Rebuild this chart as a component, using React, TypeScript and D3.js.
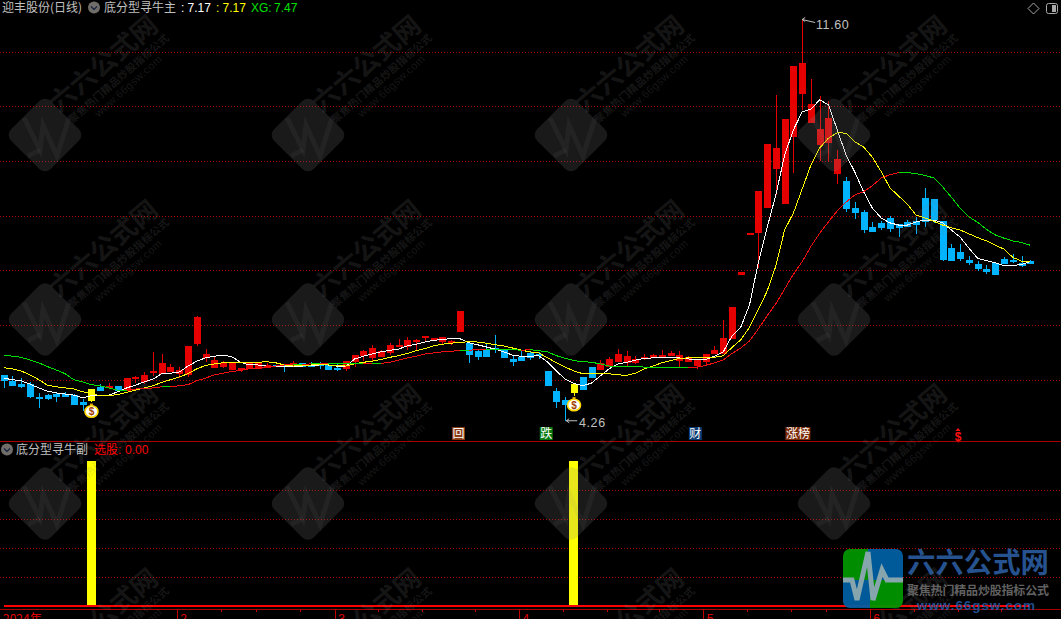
import React from "react";
import * as d3 from "d3";

const opens = [5.10,4.99,4.93,4.93,4.69,4.73,4.75,4.75,4.73,4.60,4.62,4.88,4.86,4.90,4.82,5.03,4.97,5.15,5.12,5.15,5.10,5.10,5.66,5.41,5.24,5.24,5.19,5.21,5.21,5.21,5.23,5.28,5.29,5.26,5.32,5.28,5.32,5.28,5.22,5.21,
5.33,5.44,5.41,5.43,5.50,5.61,5.61,5.71,5.77,5.74,5.70,5.68,5.88,5.68,5.54,5.57,5.59,5.57,5.39,5.43,5.50,5.48,5.17,4.80,4.64,4.77,5.06,5.24,5.19,5.24,5.33,5.32,5.32,5.39,5.41,5.43,5.44,5.35,5.33,5.26,5.33,5.48,5.48,5.76,6.94,7.67,7.69,8.15,8.87,8.22,9.45,10.24,9.71,9.30,9.34,8.77,
8.65,8.15,8.08,7.80,7.88,7.97,7.86,7.90,7.91,8.33,8.32,7.91,7.42,7.35,7.20,7.13,7.04,7.15,7.22,7.20,7.15,7.18];
const closes = [4.99,4.90,4.88,4.69,4.66,4.66,4.69,4.69,4.55,4.55,4.84,4.80,4.90,4.80,5.05,5.06,5.10,5.17,5.32,5.24,5.18,5.63,6.16,5.48,5.38,5.32,5.32,5.22,5.32,5.32,5.28,5.24,5.27,5.32,5.25,5.25,5.27,5.19,5.19,5.35,
5.46,5.54,5.59,5.54,5.65,5.65,5.74,5.74,5.81,5.77,5.79,5.72,6.27,5.46,5.43,5.43,5.55,5.41,5.33,5.35,5.41,5.44,4.90,4.60,4.55,4.93,4.82,5.04,5.32,5.39,5.48,5.44,5.39,5.43,5.46,5.46,5.50,5.46,5.43,5.39,5.48,5.55,5.77,6.34,6.99,7.69,8.46,9.32,9.25,9.78,10.75,10.80,10.05,9.60,9.80,9.05,
8.13,8.06,7.75,7.71,7.79,7.77,7.79,7.80,7.84,7.90,7.93,7.20,7.18,7.22,7.15,7.04,6.98,6.93,7.13,7.16,7.09,7.13];
const highs = [5.10,5.08,5.05,4.97,4.76,4.75,4.79,4.78,4.75,4.66,4.84,4.93,4.95,4.90,5.05,5.08,5.15,5.52,5.48,5.30,5.25,5.63,6.18,5.57,5.44,5.35,5.32,5.22,5.32,5.32,5.32,5.28,5.30,5.35,5.32,5.33,5.33,5.32,5.32,5.35,
5.46,5.55,5.65,5.55,5.68,5.76,5.79,5.76,5.81,5.77,5.79,5.74,6.27,5.68,5.55,5.68,5.83,5.57,5.44,5.54,5.54,5.52,5.17,4.86,4.69,4.93,5.06,5.24,5.37,5.43,5.57,5.54,5.44,5.48,5.48,5.55,5.54,5.54,5.44,5.39,5.48,5.63,6.10,6.34,6.99,7.69,8.46,9.32,10.22,9.78,10.75,11.60,10.51,10.20,10.11,9.21,
8.72,8.26,8.11,7.90,7.91,8.01,7.86,7.93,7.99,8.52,8.32,7.91,7.49,7.49,7.27,7.18,7.11,7.15,7.26,7.31,7.27,7.20];
const lows = [4.86,4.90,4.86,4.67,4.50,4.64,4.61,4.69,4.55,4.44,4.60,4.80,4.84,4.80,4.82,4.95,4.93,5.08,5.12,5.15,5.05,5.06,5.63,5.33,5.24,5.22,5.19,5.15,5.21,5.21,5.23,5.24,5.15,5.26,5.25,5.25,5.21,5.19,5.17,5.17,
5.24,5.35,5.35,5.43,5.46,5.61,5.55,5.55,5.70,5.74,5.66,5.65,5.88,5.32,5.37,5.43,5.50,5.41,5.26,5.35,5.37,5.39,4.90,4.49,4.26,4.71,4.82,5.04,5.19,5.24,5.33,5.26,5.30,5.37,5.41,5.43,5.44,5.24,5.33,5.21,5.26,5.48,5.48,5.76,6.94,7.67,7.05,8.15,8.39,8.22,8.79,9.94,9.71,9.01,8.99,8.59,
8.08,7.95,7.69,7.71,7.75,7.71,7.62,7.80,7.68,7.80,7.88,7.18,7.18,7.18,7.11,7.00,6.94,6.93,7.13,7.15,7.07,7.13];
const fastLine = [5.04,5.01,4.99,4.93,4.86,4.80,4.77,4.75,4.73,4.68,4.72,4.73,4.73,4.79,4.86,4.91,4.97,5.02,5.12,5.13,5.15,5.26,5.35,5.41,5.44,5.46,5.43,5.33,5.28,5.28,5.26,5.26,5.26,5.26,5.26,5.27,5.28,5.28,5.26,5.26,
5.39,5.44,5.48,5.52,5.55,5.57,5.63,5.66,5.70,5.73,5.75,5.76,5.76,5.69,5.65,5.61,5.57,5.52,5.46,5.44,5.44,5.45,5.33,5.17,5.02,4.94,4.90,4.95,5.08,5.21,5.30,5.33,5.37,5.40,5.41,5.42,5.42,5.41,5.39,5.38,5.38,5.44,5.52,5.81,5.97,6.38,7.15,7.79,8.39,9.12,9.58,9.91,9.96,10.13,10.04,9.58,
9.12,8.81,8.45,8.15,7.97,7.88,7.84,7.84,7.90,7.93,7.93,7.88,7.75,7.62,7.42,7.23,7.19,7.15,7.10,7.10,7.12,7.17];
const midLine = [5.23,5.21,5.17,5.10,5.01,4.91,4.88,4.86,4.84,4.79,4.75,4.72,4.72,4.74,4.78,4.82,4.86,4.90,4.96,5.01,5.06,5.12,5.21,5.27,5.30,5.32,5.33,5.33,5.33,5.33,5.34,5.32,5.28,5.26,5.27,5.28,5.28,5.28,5.27,5.26,
5.30,5.33,5.35,5.38,5.42,5.45,5.49,5.54,5.58,5.63,5.66,5.68,5.69,5.71,5.70,5.68,5.65,5.63,5.59,5.55,5.52,5.50,5.41,5.32,5.24,5.17,5.12,5.12,5.12,5.12,5.10,5.09,5.13,5.21,5.26,5.32,5.36,5.40,5.41,5.41,5.41,5.42,5.45,5.60,5.74,5.97,6.29,6.63,7.09,7.75,8.06,8.50,8.94,9.25,9.43,9.53,
9.52,9.36,9.27,9.08,8.82,8.52,8.37,8.22,8.02,7.97,7.91,7.84,7.79,7.75,7.68,7.61,7.55,7.47,7.40,7.25,7.18,7.17];
const xgLine = [5.46,5.44,5.42,5.37,5.32,5.25,5.19,5.12,5.01,4.97,4.92,4.90,4.86,4.82,4.82,4.84,4.85,4.86,4.88,4.88,4.90,4.92,4.99,5.04,5.10,5.13,5.16,5.18,5.21,5.22,5.25,5.26,5.28,5.29,5.29,5.30,5.30,5.31,5.31,5.31,
5.30,5.30,5.31,5.31,5.33,5.37,5.41,5.44,5.48,5.50,5.52,5.53,5.55,5.55,5.56,5.57,5.57,5.56,5.56,5.55,5.56,5.54,5.52,5.45,5.40,5.36,5.34,5.33,5.30,5.26,5.26,5.26,5.26,5.24,5.24,5.24,5.24,5.24,5.23,5.24,5.27,5.32,5.37,5.49,5.59,5.72,5.94,6.18,6.40,6.67,6.94,7.17,7.45,7.69,7.90,8.10,
8.26,8.39,8.45,8.56,8.70,8.76,8.80,8.80,8.78,8.75,8.70,8.54,8.35,8.15,7.99,7.89,7.76,7.66,7.60,7.55,7.52,7.47];
const signalBars = [10, 65];
const priceGrid = [5, 6, 7, 8, 9, 10, 11];
const subGrid = [0.2, 0.4, 0.6, 0.8];
const monthTicks = [{ i: 20, label: "2" }, { i: 38, label: "3" }, { i: 59, label: "4" }, { i: 80, label: "5" }, { i: 99, label: "6" }];
const minorTicks = [25, 29, 34, 43, 48, 54, 64, 69, 75, 85, 90, 94, 104, 109, 114];
const events = [{ i: 52, w: 13, label: "回", bg: "#8a3a14" }, { i: 62, w: 13, label: "跌", bg: "#0a7a10" }, { i: 79, w: 13, label: "财", bg: "#0c3a72" }, { i: 90, w: 25, label: "涨榜", bg: "#7a2a08" }];
const RED = "#e60000", BLUE = "#00b4ff", YELLOW = "#ffff00", GRID = "#b00000", GREY = "#c0c0c0";
const CJK = "'Noto Sans CJK SC', sans-serif";
const NUM = "'Liberation Sans', Arial, sans-serif";

const x = d3.scaleLinear().domain([0, 117]).range([3.7, 1030.3]);
const y = d3.scaleLinear().domain([5, 11]).range([380.3, 52.3]);
const ySub = d3.scaleLinear().domain([0, 1]).range([606, 461]);
const snap = (v: number) => Math.floor(v) + 0.5;
const line = d3.line<number>().x((_, i) => x(i)).y((d) => y(d));
const WM = "rgba(128,128,128,0.18)";
const WM2 = "rgba(128,128,128,0.09)";

function Watermark({ cx, cy }: { cx: number; cy: number }) {
  return (
    <g>
      <rect x={cx - 28} y={cy - 28} width={56} height={56} rx={8} fill="rgba(128,128,128,0.2)" transform={`rotate(45 ${cx} ${cy})`} />
      <polyline points={[[-21, -17], [-5, 15], [-2, -10], [12, 21], [24, -17]].map((p) => `${cx + p[0]},${cy + p[1]}`).join(" ")} fill="none" stroke={WM2} strokeWidth={5} />
      <polyline points={[[-17, 21], [-5, 15]].map((p) => `${cx + p[0]},${cy + p[1]}`).join(" ")} fill="none" stroke={WM2} strokeWidth={5} />
      <text transform={`translate(${cx + 57} ${cy - 73}) rotate(-40)`} textAnchor="middle" dominantBaseline="central" fontFamily={CJK} fontSize={26} fontWeight={700} fill={WM} textLength={132} lengthAdjust="spacingAndGlyphs">六六公式网</text>
      <text transform={`translate(${cx + 73} ${cy - 57}) rotate(-41)`} textAnchor="middle" dominantBaseline="central" fontFamily={CJK} fontSize={10.5} fontWeight={700} fill={WM} textLength={129}>聚焦热门精品炒股指标公式</text>
      <text transform={`translate(${cx + 83} ${cy - 49}) rotate(-42)`} textAnchor="middle" dominantBaseline="central" fontFamily={NUM} fontSize={11} fill={WM} textLength={86}>www.66gsw.com</text>
    </g>
  );
}

function Bag({ cx, cy }: { cx: number; cy: number }) {
  return (
    <g>
      <rect x={cx - 1.5} y={cy - 8} width={3} height={4} fill="#e0a000" />
      <ellipse cx={cx} cy={cy} rx={6.5} ry={5.8} fill="#ffffff" stroke="#ffd800" strokeWidth={1.6} />
      <text x={cx} y={cy + 3.5} textAnchor="middle" fontFamily={NUM} fontSize={10} fontWeight={700} fill="#a04000">$</text>
    </g>
  );
}

export default function App() {
  const xgSegments = xgLine.slice(1).map((v, i) => ({ a: i, b: i + 1, up: v > xgLine[i] }));
  const columns = [45, 308, 571, 834];
  const rows = [135, 319.5, 503.5, 688];
  return (
    <div style={{ position: "fixed", left: 0, top: 0, width: 1061, height: 619, background: "#000", overflow: "hidden" }}>
      <svg width={1061} height={619} style={{ display: "block" }}>
        <rect width={1061} height={619} fill="#000" />
        {priceGrid.map((p) => (
          <line key={p} x1={0} x2={1061} y1={snap(y(p))} y2={snap(y(p))} stroke={GRID} strokeDasharray="1 2" shapeRendering="crispEdges" />
        ))}
        {subGrid.map((p) => (
          <line key={p} x1={0} x2={1061} y1={snap(ySub(p))} y2={snap(ySub(p))} stroke={GRID} strokeDasharray="1 2" shapeRendering="crispEdges" />
        ))}
        <line x1={0} x2={1061} y1={441.5} y2={441.5} stroke="#a80000" shapeRendering="crispEdges" />
        <line x1={0} x2={1061} y1={609.5} y2={609.5} stroke="#a80000" shapeRendering="crispEdges" />

        {opens.map((o, i) => {
          const c = closes[i];
          const hit = signalBars.includes(i);
          const col = hit ? YELLOW : c >= o ? RED : BLUE;
          const top = y(Math.max(o, c));
          const bot = y(Math.min(o, c));
          const cxp = Math.round(x(i));
          return (
            <g key={i} shapeRendering="crispEdges">
              <line x1={cxp + 0.5} x2={cxp + 0.5} y1={y(highs[i])} y2={y(lows[i])} stroke={col} />
              <rect x={cxp - 3} y={Math.round(top)} width={7} height={Math.max(2, Math.round(bot - top))} fill={col} />
            </g>
          );
        })}

        <g shapeRendering="crispEdges">
          <path d={line(fastLine) || ""} fill="none" stroke="#ffffff" strokeWidth={1} />
          <path d={line(midLine) || ""} fill="none" stroke={YELLOW} strokeWidth={1} />
          {xgSegments.map((s) => (
            <line key={s.a} x1={x(s.a)} x2={x(s.b)} y1={y(xgLine[s.a])} y2={y(xgLine[s.b])} stroke={s.up ? "#f01010" : "#00e000"} strokeWidth={1} />
          ))}
        </g>

        <g stroke={GREY} fill="none" strokeWidth={1}>
          <path d={`M${x(91)} ${y(11.6)} l13 3 M${x(91)} ${y(11.6)} l3 -2 M${x(91)} ${y(11.6)} l3 2`} />
          <path d={`M${x(64) + 1} ${y(4.26)} h11 M${x(64) + 1} ${y(4.26)} l3 -2 M${x(64) + 1} ${y(4.26)} l3 2`} />
        </g>
        <text x={816} y={29} fontFamily={NUM} fontSize={12.5} letterSpacing={0.6} fill={GREY}>11.60</text>
        <text x={579} y={427} fontFamily={NUM} fontSize={12.5} letterSpacing={0.6} fill={GREY}>4.26</text>

        {signalBars.map((i) => <Bag key={i} cx={x(i)} cy={i === 10 ? 411.5 : 405} />)}

        {events.map((e) => (
          <g key={e.label}>
            <rect x={x(e.i) - 8} y={427} width={e.w} height={13} fill={e.bg} />
            <text x={x(e.i) - 8 + e.w / 2} y={438} textAnchor="middle" fontFamily={CJK} fontSize={12} fill="#ffffff">{e.label}</text>
          </g>
        ))}
        <path d="M958 428 l2.5 3 h-5 z" fill="#ff1010" />
        <text x={958} y={441} textAnchor="middle" fontFamily={NUM} fontSize={12} fontWeight={700} fill="#ff1010">$</text>

        {signalBars.map((i) => (
          <rect key={i} x={Math.round(x(i) - 4.7)} y={ySub(1)} width={9} height={ySub(0) - ySub(1)} fill={YELLOW} shapeRendering="crispEdges" />
        ))}
        <line x1={x(0)} x2={x(117)} y1={ySub(0)} y2={ySub(0)} stroke="#ff0000" strokeWidth={2.5} shapeRendering="crispEdges" />

        {monthTicks.map((t) => (
          <g key={t.label}>
            <line x1={snap(x(t.i) - 2)} x2={snap(x(t.i) - 2)} y1={609} y2={619} stroke="#c00000" shapeRendering="crispEdges" />
            <text x={x(t.i) + 1} y={623} fontFamily={NUM} fontSize={12} fill="#e00000">{t.label}</text>
          </g>
        ))}
        {minorTicks.map((t) => (
          <line key={t} x1={snap(x(t) - 2)} x2={snap(x(t) - 2)} y1={609} y2={612} stroke="#c00000" shapeRendering="crispEdges" />
        ))}
        <text x={3} y={623} fontFamily={CJK} fontSize={12} fill="#e00000">2024年</text>

        {columns.map((cx) => rows.map((cy) => <Watermark key={`${cx}-${cy}`} cx={cx} cy={cy} />))}

        <g dominantBaseline="auto">
          <text x={2} y={12} fontFamily={CJK} fontSize={12} fill={GREY}>迎丰股份(日线)</text>
          <circle cx={94} cy={7.5} r={6} fill="#706c68" />
          <path d="M91 6.5 l3 3 l3 -3" fill="none" stroke="#102040" strokeWidth={1.2} />
          <text x={104} y={12} fontFamily={CJK} fontSize={12} fill={GREY}>底分型寻牛主</text>
          <text x={181} y={12} fontFamily={NUM} fontSize={12} fill="#fff">:</text>
          <text x={187.5} y={12} fontFamily={NUM} fontSize={12} fill="#fff">{fastLine[117].toFixed(2)}</text>
          <text x={216} y={12} fontFamily={NUM} fontSize={12} fill={YELLOW}>:</text>
          <text x={222.5} y={12} fontFamily={NUM} fontSize={12} fill={YELLOW}>{midLine[117].toFixed(2)}</text>
          <text x={251} y={12} fontFamily={NUM} fontSize={12} fill="#00e000">XG:</text>
          <text x={274} y={12} fontFamily={NUM} fontSize={12} fill="#00e000">{xgLine[117].toFixed(2)}</text>

          <circle cx={7} cy={449.5} r={6} fill="#706c68" />
          <path d="M4 448.5 l3 3 l3 -3" fill="none" stroke="#102040" strokeWidth={1.2} />
          <text x={16} y={454} fontFamily={CJK} fontSize={12} fill={GREY}>底分型寻牛副</text>
          <text x={94} y={454} fontFamily={CJK} fontSize={12} fill="#ff0000">选股</text>
          <text x={118} y={454} fontFamily={NUM} fontSize={12} fill="#ff0000">:</text>
          <text x={125} y={454} fontFamily={NUM} fontSize={12} fill="#ff0000">0.00</text>
        </g>

        <path d="M1033.5 3 l5.5 5.5 l-5.5 5.5 l-5.5 -5.5 z" fill="none" stroke="#a8a8a8" />
        <rect x={1046.5} y={3.5} width={11} height={10} rx={2} fill="none" stroke="#a8a8a8" />
        <rect x={1052} y={5} width={4} height={7} fill="#a8a8a8" />

        <g opacity={0.92}>
          <clipPath id="logoClip"><rect x={843} y={549} width={60} height={59} rx={7} /></clipPath>
          <g clipPath="url(#logoClip)">
            <rect x={843} y={549} width={25} height={31} fill="#009a00" />
            <rect x={868} y={549} width={35} height={31} fill="#0062a8" />
            <rect x={843} y={580} width={27} height={28} fill="#0062a8" />
            <rect x={870} y={580} width={33} height={28} fill="#009a00" />
            <polyline points="843,580 852,580 857,600 868,552 873,600 882,570 887,580 903,580" fill="none" stroke="#93b4bc" strokeWidth={5} />
          </g>
          <text x={907} y={573} fontFamily={CJK} fontSize={28} fontWeight={700} fill="#2a5a9c" textLength={142} lengthAdjust="spacingAndGlyphs">六六公式网</text>
          <text x={907} y={595} fontFamily={CJK} fontSize={12} fontWeight={700} fill="#6a6a6a" textLength={142}>聚焦热门精品炒股指标公式</text>
          <text x={917} y={610} fontFamily={NUM} fontSize={13.5} fontWeight={700} fill="#24559a" textLength={118}>www.66gsw.com</text>
        </g>
      </svg>
    </div>
  );
}
